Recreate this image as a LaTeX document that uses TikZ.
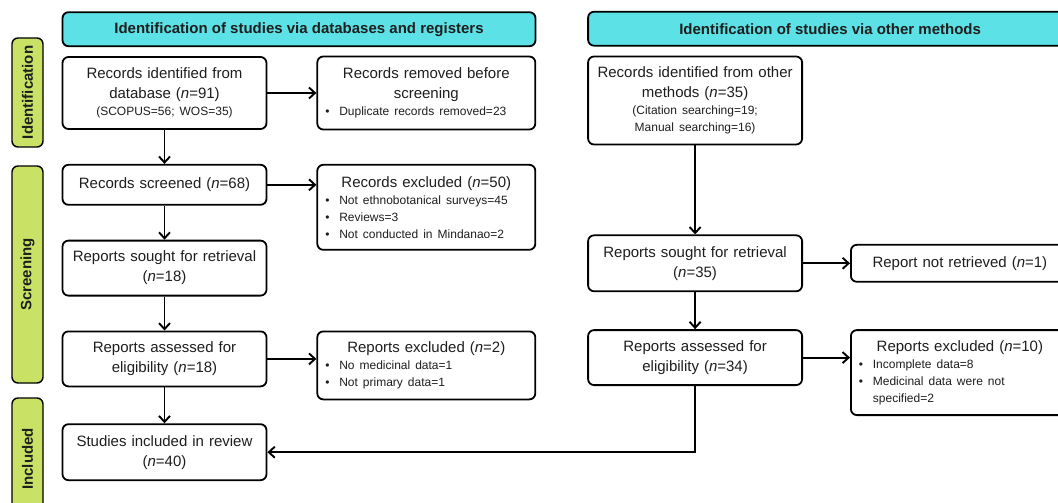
\documentclass[tikz,border=0pt]{standalone}
\usepackage{fontspec}
\setmainfont{Liberation Sans}
\usetikzlibrary{arrows.meta,positioning}
\definecolor{headcyan}{HTML}{5CE1E6}
\definecolor{phasegreen}{HTML}{C9E265}
\definecolor{inkgray}{HTML}{1E1E1E}
\newcommand{\sml}{\fontsize{12}{17}\selectfont}
\newcommand{\bul}{\par\hangindent=14pt\hangafter=1\noindent\makebox[14pt][l]{\textbullet}}
\frenchspacing

\begin{document}
\begin{tikzpicture}[x=1pt,y=-1pt,>={Straight Barb[length=6pt,width=11pt]},line width=1.9pt,
		every node/.style={text=inkgray,font=\fontsize{15}{20}\selectfont},
		box/.style={draw,line width=1.8pt,rounded corners=6pt,fill=white,text width=#1,align=center,inner xsep=4pt,inner ysep=3pt},
		listbox/.style={draw,line width=1.8pt,rounded corners=6pt,fill=white,text width=202pt,align=left,inner xsep=8pt,inner ysep=3pt},
		head/.style={draw,line width=1.8pt,rounded corners=6pt,fill=headcyan,minimum height=34pt,font=\bfseries\fontsize{15}{18}\selectfont},
		phase/.style={draw,line width=1.4pt,rounded corners=6pt,fill=phasegreen,rotate=90,minimum height=31pt,font=\bfseries\fontsize{15}{18}\selectfont}]
		\useasboundingbox (0,0) rectangle (1058,503);
		\clip (0,0) rectangle (1058,503);

		\node[phase,minimum width=109pt] (pid) at (27.5,92.5) {Identification};
		\node[phase,minimum width=217pt] (pscr) at (27.5,274.5) {Screening};
		\node[phase,minimum width=122pt] (pinc) at (27.5,459) {Included};

		\node[box=196pt,minimum height=72pt] (rid) at (164.5,93) {Records identified from\\database (\textit{n}=91)\par{\sml (SCOPUS=56; WOS=35)\par}};
		\node[box=196pt,minimum height=40pt,below=34pt of rid] (rscr) {Records screened (\textit{n}=68)};
		\node[box=196pt,minimum height=55pt,below=34pt of rscr] (rsought) {Reports sought for retrieval\\(\textit{n}=18)};
		\node[box=196pt,minimum height=55pt,below=34pt of rsought] (rassess) {Reports assessed for\\eligibility (\textit{n}=18)};
		\node[box=196pt,minimum height=56pt,below=36pt of rassess] (incl) {Studies included in review\\(\textit{n}=40)};

		\node[listbox,minimum height=73pt,right=49pt of rid] (rrem) {{\centering Records removed before\\screening\par}\sml
			\bul Duplicate records removed=23\par};
		\node[listbox,minimum height=85pt,right=49pt of rscr.north east,anchor=north west] (rexcl) {{\centering Records excluded (\textit{n}=50)\par}\sml
			\bul Not ethnobotanical surveys=45
			\bul Reviews=3
			\bul Not conducted in Mindanao=2\par};
		\node[listbox,minimum height=68pt,right=49pt of rassess.north east,anchor=north west] (rexclb) {{\centering Reports excluded (\textit{n}=2)\par}\sml
			\bul No medicinal data=1
			\bul Not primary data=1\par};

		\node[box=206pt,minimum height=88pt,right=51pt of rrem.north east,anchor=north west] (roth) {Records identified from other\\methods (\textit{n}=35)\par{\sml (Citation searching=19;\\Manual searching=16)\par}};
		\node[box=206pt,minimum height=56pt,below=89pt of roth] (rsoughtb) {Reports sought for retrieval\\(\textit{n}=35)};
		\node[box=206pt,minimum height=55pt,below=37pt of rsoughtb] (rassessb) {Reports assessed for\\eligibility (\textit{n}=34)};
		\node[box=210pt,minimum height=37pt,right=47pt of rsoughtb] (rnot) {Report not retrieved (\textit{n}=1)};
		\node[listbox,minimum height=85pt,right=47pt of rassessb.north east,anchor=north west] (rexclc) {{\centering Reports excluded (\textit{n}=10)\par}\sml
			\bul Incomplete data=8
			\bul Medicinal data were not\newline specified=2\par};

		\node[head,minimum width=473pt,above=9pt of rid.north west,anchor=south west] (hdb) {Identification of studies via databases and registers};
		\node[head,minimum width=484pt,above=9pt of roth.north west,anchor=south west] (hoth) {Identification of studies via other methods};

		\draw[->] (rid) -- (rscr);
		\draw[->] (rid.east) -- (rid.east -| rrem.west);
		\draw[->] (rscr.east) -- (rscr.east -| rexcl.west);
		\draw[->] (rscr) -- (rsought);
		\draw[->] (rsought) -- (rassess);
		\draw[->] (rassess.east) -- (rassess.east -| rexclb.west);
		\draw[->] (rassess) -- (incl);
		\draw[->] (roth) -- (rsoughtb);
		\draw[->] (rsoughtb.east) -- (rsoughtb.east -| rnot.west);
		\draw[->] (rsoughtb) -- (rassessb);
		\draw[->] (rassessb.east) -- (rassessb.east -| rexclc.west);
		\draw[->] (rassessb.south) |- (incl.east);
	\end{tikzpicture}
\end{document}
